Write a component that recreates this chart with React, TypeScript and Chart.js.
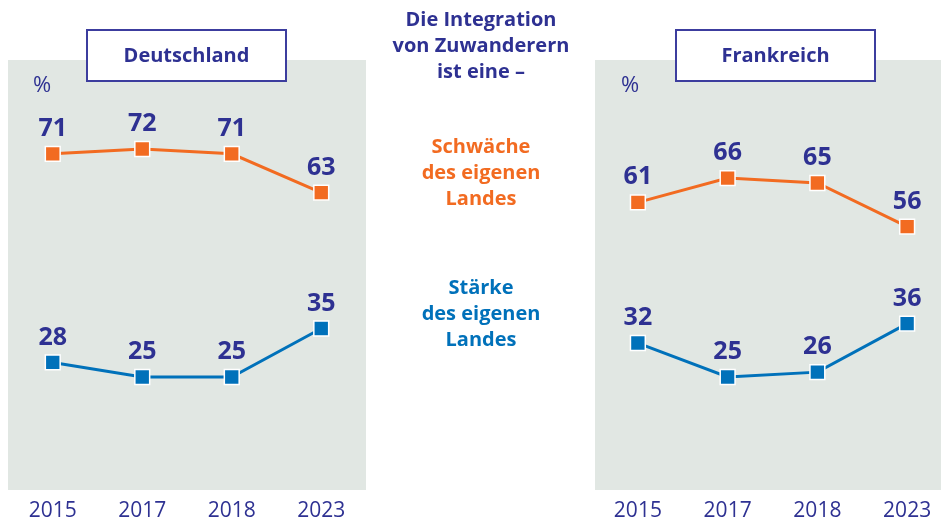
import React, { useEffect, useRef } from "react";
import { Chart, registerables } from "chart.js";

Chart.register(...registerables);

// ---- data ----
const years = ["2015", "2017", "2018", "2023"];
const deWeakness = [71, 72, 71, 63];
const deStrength = [28, 25, 25, 35];
const frWeakness = [61, 66, 65, 56];
const frStrength = [32, 25, 26, 36];
const panelTitles = ["Deutschland", "Frankreich"];
const unitLabel = "%";
const introLines = ["Die Integration", "von Zuwanderern", "ist eine –"];
const weaknessLines = ["Schwäche", "des eigenen", "Landes"];
const strengthLines = ["Stärke", "des eigenen", "Landes"];

// ---- styles ----
const NAVY = "#2E3192";
const ORANGE = "#F26B21";
const BLUE = "#0071BA";
const GRAY = "#E1E7E3";
const BOX = "#3C3D9E";
const FONT = "'Open Sans', Lato, sans-serif";

const panelPlugin = {
  id: "panel",
  beforeDraw(chart: any, _args: any, opts: any) {
    const { ctx, chartArea: a } = chart;
    ctx.save();
    ctx.fillStyle = GRAY;
    ctx.fillRect(a.left + opts.bgInset, a.top, a.right - a.left - opts.bgInset, a.bottom - a.top);
    ctx.fillStyle = NAVY;
    ctx.textAlign = "center";
    ctx.textBaseline = "middle";
    ctx.font = `22px ${FONT}`;
    ctx.fillText(unitLabel, opts.pctX, 86);
    // title box
    ctx.fillStyle = "#fff";
    ctx.fillRect(opts.boxX, 30, 199, 51);
    ctx.strokeStyle = BOX;
    ctx.lineWidth = 2;
    ctx.strokeRect(opts.boxX, 30, 199, 51);
    ctx.fillStyle = NAVY;
    ctx.font = `bold 20px ${FONT}`;
    ctx.fillText(opts.title, opts.boxX + 99.5, 56);
    ctx.restore();
  },
  afterDatasetsDraw(chart: any) {
    const { ctx } = chart;
    ctx.save();
    ctx.fillStyle = NAVY;
    ctx.font = `bold 25px ${FONT}`;
    ctx.textAlign = "center";
    ctx.textBaseline = "middle";
    chart.data.datasets.forEach((ds: any, i: number) => {
      const meta = chart.getDatasetMeta(i);
      meta.data.forEach((pt: any, j: number) => {
        ctx.fillText(String(ds.data[j]), pt.x, pt.y - 25);
      });
    });
    ctx.restore();
  },
};

function makeConfig(weak: number[], strong: number[], panel: any, padLeft: number, padRight: number): any {
  const ds = (data: number[], color: string) => ({
    data,
    borderColor: color,
    backgroundColor: color,
    borderWidth: 3,
    pointStyle: "rect",
    pointRadius: 10.5,
    pointBackgroundColor: color,
    pointBorderColor: "#fff",
    pointBorderWidth: 1.5,
    tension: 0,
    clip: false,
  });
  return {
    type: "line",
    data: { labels: years, datasets: [ds(weak, ORANGE), ds(strong, BLUE)] },
    options: {
      responsive: false,
      animation: false,
      layout: { autoPadding: false, padding: { left: padLeft, right: padRight, top: 60, bottom: 0 } },
      plugins: { legend: { display: false }, tooltip: { enabled: false }, panel },
      scales: {
        x: {
          offset: true,
          grid: { display: false, drawTicks: false },
          border: { display: false },
          ticks: { color: NAVY, font: { family: FONT, size: 21 }, padding: 8, maxRotation: 0 },
          afterFit(scale: any) {
            scale.height = 34;
            scale.paddingLeft = 0;
            scale.paddingRight = 0;
          },
        },
        y: { display: false, min: 1.7, max: 90.35 },
      },
    },
    plugins: [panelPlugin],
  };
}

function ChartCanvas({ config, left, width }: { config: any; left: number; width: number }) {
  const ref = useRef<HTMLCanvasElement>(null);
  useEffect(() => {
    const c = new Chart(ref.current as HTMLCanvasElement, config);
    return () => c.destroy();
  }, []);
  return (
    <canvas
      ref={ref}
      width={width}
      height={524}
      style={{ position: "absolute", left, top: 0, width, height: 524, display: "block" }}
    />
  );
}

function TextBlock({ lines, top, color }: { lines: string[]; top: number; color: string }) {
  return (
    <div
      style={{
        position: "absolute",
        left: 371,
        width: 220,
        top,
        textAlign: "center",
        color,
        fontFamily: FONT,
        fontWeight: "bold",
        fontSize: 20,
        lineHeight: "26px",
      }}
    >
      {lines.map((l, i) => (
        <div key={i}>{l}</div>
      ))}
    </div>
  );
}

export default function App() {
  const deConfig = makeConfig(
    deWeakness,
    deStrength,
    { title: panelTitles[0], boxX: 87, pctX: 42, bgInset: 0 },
    8,
    14
  );
  const frConfig = makeConfig(
    frWeakness,
    frStrength,
    { title: panelTitles[1], boxX: 91, pctX: 45, bgInset: 2 },
    8,
    3
  );
  return (
    <div
      style={{
        position: "fixed",
        left: 0,
        top: 0,
        width: 941,
        height: 524,
        overflow: "hidden",
        background: "#fff",
      }}
    >
      <ChartCanvas config={deConfig} left={0} width={380} />
      <ChartCanvas config={frConfig} left={585} width={370} />
      <TextBlock lines={introLines} top={6} color={NAVY} />
      <TextBlock lines={weaknessLines} top={133} color={ORANGE} />
      <TextBlock lines={strengthLines} top={274} color={BLUE} />
    </div>
  );
}
